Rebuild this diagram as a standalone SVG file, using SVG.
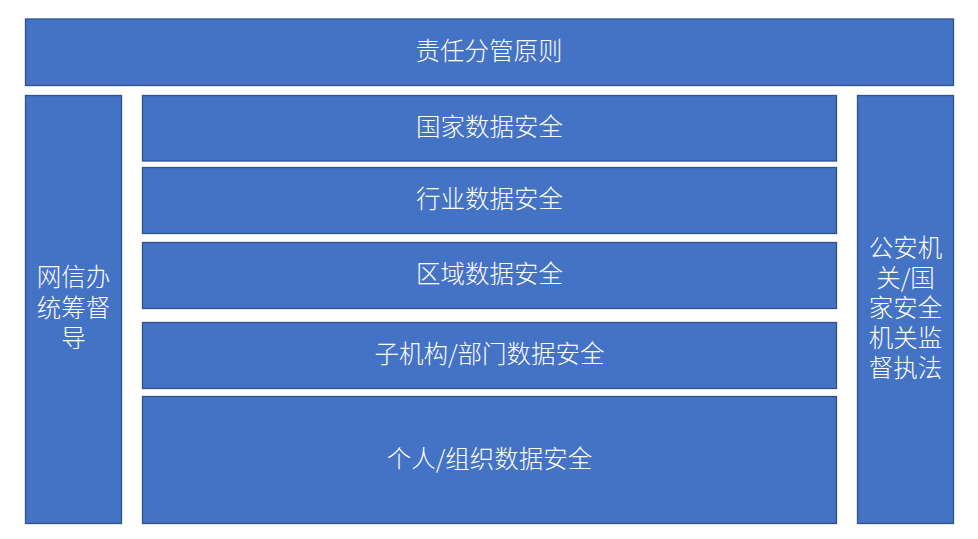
<svg xmlns="http://www.w3.org/2000/svg" width="978" height="539" viewBox="0 0 978 539">
<style>
.box{fill:#4472C4;stroke:#2F528F;stroke-width:1.3}
.t{fill:#FFFFFF;font-family:"Noto Sans CJK SC","Liberation Sans",sans-serif;font-size:24.5px;font-weight:300;text-anchor:middle;dominant-baseline:central}
</style>
<rect width="978" height="539" fill="#FFFFFF"/>
<g id="top">
<rect class="box" x="25.5" y="19" width="928" height="66.5"/>
<text class="t" x="489" y="49">责任分管原则</text>
</g>
<g id="left">
<rect class="box" x="25.5" y="95.5" width="96" height="428"/>
<text class="t" x="73.5" y="275.5">网信办</text>
<text class="t" x="73.5" y="306">统筹督</text>
<text class="t" x="73.5" y="336.5">导</text>
</g>
<g id="right">
<rect class="box" x="857.5" y="95.5" width="96" height="428"/>
<text class="t" x="905.5" y="246">公安机</text>
<text class="t" x="905.5" y="276">关/国</text>
<text class="t" x="905.5" y="306">家安全</text>
<text class="t" x="905.5" y="336">机关监</text>
<text class="t" x="905.5" y="366">督执法</text>
</g>
<g id="n1">
<rect class="box" x="142.5" y="95.5" width="694" height="65.5"/>
<text class="t" x="489.5" y="125">国家数据安全</text>
</g>
<g id="n2">
<rect class="box" x="142.5" y="167.5" width="694" height="66"/>
<text class="t" x="489.5" y="197.5">行业数据安全</text>
</g>
<g id="n3">
<rect class="box" x="142.5" y="242.5" width="694" height="66"/>
<text class="t" x="489.5" y="272.5">区域数据安全</text>
</g>
<g id="n4">
<rect class="box" x="142.5" y="322.5" width="694" height="66"/>
<text class="t" x="489.5" y="352.5">子机构/部门数据安全</text>
</g>
<g id="n5">
<rect class="box" x="142.5" y="396.5" width="694" height="127"/>
<text class="t" x="489.5" y="457">个人/组织数据安全</text>
</g>
<g id="connectors"></g>
</svg>
